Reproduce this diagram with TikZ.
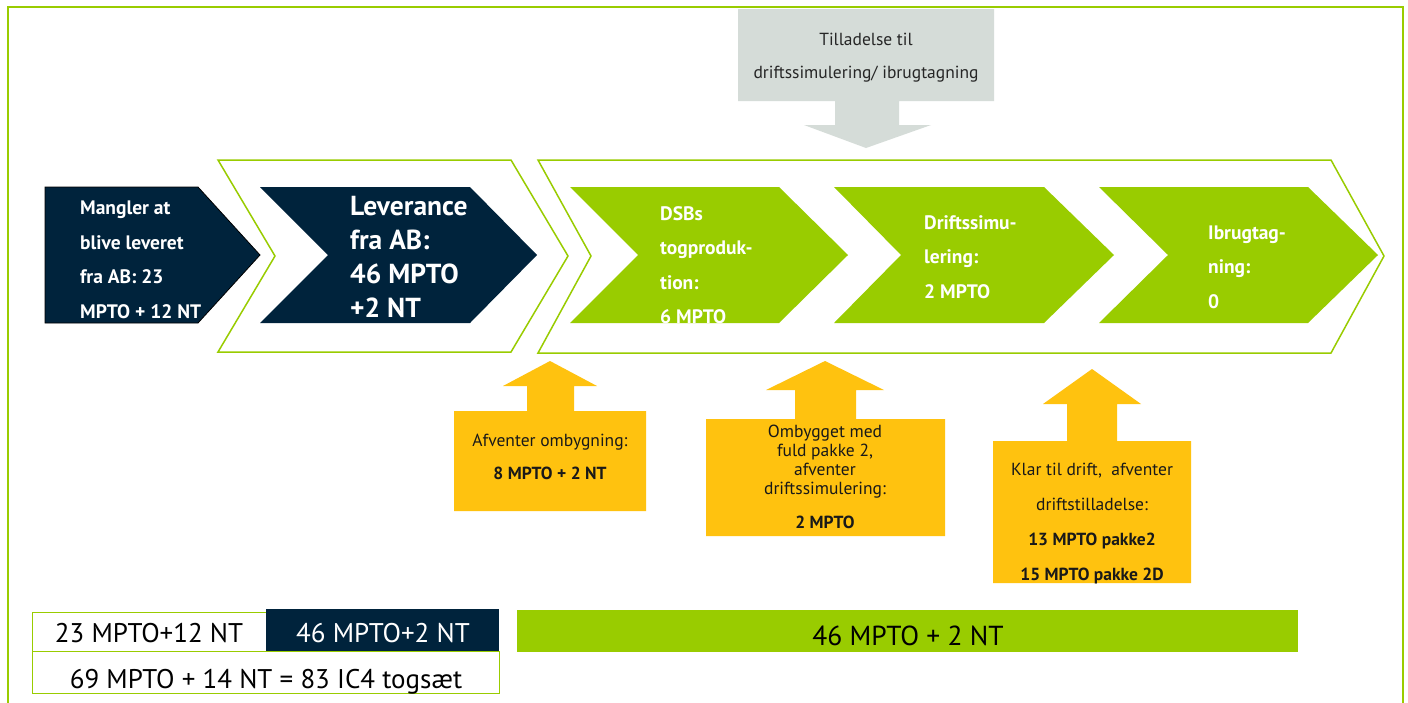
\documentclass[tikz,border=0pt]{standalone}
\usepackage{fontspec}
\setmainfont{PT Sans}
\definecolor{dsbnavy}{HTML}{00233C}
\definecolor{dsbgreen}{HTML}{99CC00}
\definecolor{dsbgray}{HTML}{D5DCD8}
\definecolor{dsbyellow}{HTML}{FFC20F}
\tikzset{
  frameline/.style={draw=dsbgreen, line width=2pt},
  outlinechev/.style={draw=dsbgreen, line width=1.5pt, fill=white, line join=miter},
  navychev/.style={fill=dsbnavy, draw=black, line width=0.8pt},
  navychevb/.style={fill=dsbnavy},
  greenchev/.style={fill=dsbgreen},
  grayshape/.style={fill=dsbgray},
  yellowshape/.style={fill=dsbyellow},
  chevtxt/.style={text=white, font=\bfseries\fontsize{19.5}{34.5}\selectfont, align=left, inner sep=0pt, anchor=west},
  bigchevtxt/.style={text=white, font=\bfseries\fontsize{27.5}{34}\selectfont, align=left, inner sep=0pt, anchor=west},
  graytxt/.style={text=black!85, font=\fontsize{17.5}{33}\selectfont, align=center, inner sep=0pt},
  yellowtxt/.style={text=black!90, align=center, inner sep=0pt},
  bartxt/.style={font=\fontsize{27}{30}\selectfont, inner sep=0pt},
}
\begin{document}
\begin{tikzpicture}[x=1pt,y=-1pt]
\useasboundingbox (0,0) rectangle (1408,702);
\fill[white] (0,0) rectangle (1408,702);

% permission box with downward arrow
\fill[grayshape] (738,9) -- (994,9) -- (994,101) -- (899,101) -- (899,125) -- (931,125)
  -- (866,148) -- (804,125) -- (835,125) -- (835,101) -- (738,101) -- cycle;
\node[graytxt] (perm) at (866,58) {Tilladelse til\\driftssimulering/ ibrugtagning};

% outer frame
\draw[frameline] (8,705) -- (8,7) -- (1403,7) -- (1403,705);

% outline chevrons
\draw[outlinechev] (218,160) -- (511,160) -- (568,256) -- (511,352) -- (218,352) -- (275,256) -- cycle;
\draw[outlinechev] (538,160) -- (1331,160) -- (1384,256) -- (1331,353) -- (538,353) -- (591,256) -- cycle;

% navy chevrons
\draw[navychev] (45,187) -- (198,187) -- (260,255) -- (198,323) -- (45,323) -- cycle;
\node[chevtxt] (missing) at (80,260) {Mangler at\\blive leveret\\fra AB: 23\\MPTO + 12 NT};
\fill[navychevb] (260,187) -- (470,187) -- (537,255) -- (470,323) -- (260,323) -- (328,255) -- cycle;
\node[bigchevtxt] (delivery) at (350,256.5) {Leverance\\fra AB:\\46 MPTO\\+2 NT};

% green chevrons
\begin{scope}
  \clip (570,187) -- (779,187) -- (848,255) -- (779,323) -- (570,323) -- (638,255) -- cycle;
  \fill[greenchev] (560,180) rectangle (860,330);
  \node[chevtxt] (prod) at (660,265) {DSBs\\togproduk-\\tion:\\6 MPTO};
\end{scope}
\fill[greenchev] (834,187) -- (1044,187) -- (1114,255) -- (1044,323) -- (834,323) -- (901,255) -- cycle;
\node[chevtxt] (sim) at (924,257) {Driftssimu-\\lering:\\2 MPTO};
\fill[greenchev] (1099,187) -- (1308,187) -- (1378,255) -- (1308,323) -- (1099,323) -- (1168,255) -- cycle;
\node[chevtxt] (use) at (1208,267) {Ibrugtag-\\ning:\\0};

% yellow boxes with upward arrows
\fill[yellowshape] (454,411) -- (527,411) -- (527,386) -- (503,386) -- (550,361) -- (597,386)
  -- (574,386) -- (574,411) -- (646,411) -- (646,511) -- (454,511) -- cycle;
\node[yellowtxt, font=\fontsize{17.5}{33}\selectfont] (wait) at (550,456.5) {Afventer ombygning:\\\textbf{8 MPTO + 2 NT}};

\fill[yellowshape] (706,419) -- (795,419) -- (795,390) -- (766,390) -- (825,361) -- (884,390)
  -- (856,390) -- (856,419) -- (945,419) -- (945,536) -- (706,536) -- cycle;
\node[yellowtxt, font=\fontsize{17.5}{19}\selectfont] (rebuilt) at (825,477) {Ombygget med\\fuld pakke 2,\\afventer\\driftssimulering:\\[15pt]\textbf{2 MPTO}};

\begin{scope}
  \clip (993,441) -- (1067,441) -- (1067,404) -- (1043,404) -- (1092,369) -- (1141,404)
    -- (1117,404) -- (1117,441) -- (1191,441) -- (1191,583) -- (993,583) -- cycle;
  \fill[yellowshape] (990,360) rectangle (1195,590);
  \node[yellowtxt, font=\fontsize{17.5}{35}\selectfont] (ready) at (1092,523.5) {Klar til drift,\ \ afventer\\driftstilladelse:\\\textbf{13 MPTO pakke2}\\\textbf{15 MPTO pakke 2D}};
\end{scope}

% bottom summary bars
\draw[draw=dsbgreen, line width=1pt, fill=white] (32,612) rectangle (266,651);
\node[bartxt, text=black] (sumA) at (149,633) {23 MPTO+12 NT};
\fill[dsbnavy] (266,609) rectangle (499,651);
\node[bartxt, text=white] (sumB) at (383,633) {46 MPTO+2 NT};
\draw[draw=dsbgreen, line width=1pt, fill=white] (32,651) rectangle (499,693);
\begin{scope}
  \clip (32,651) rectangle (499,693);
  \node[bartxt, text=black] (total) at (266,682) {69 MPTO + 14 NT = 83 IC4 togsæt};
\end{scope}
\fill[dsbgreen] (517,610) rectangle (1298,652);
\node[bartxt, text=black, font=\fontsize{27.5}{30}\selectfont] (sumC) at (908,636) {46 MPTO + 2 NT};
\end{tikzpicture}
\end{document}
